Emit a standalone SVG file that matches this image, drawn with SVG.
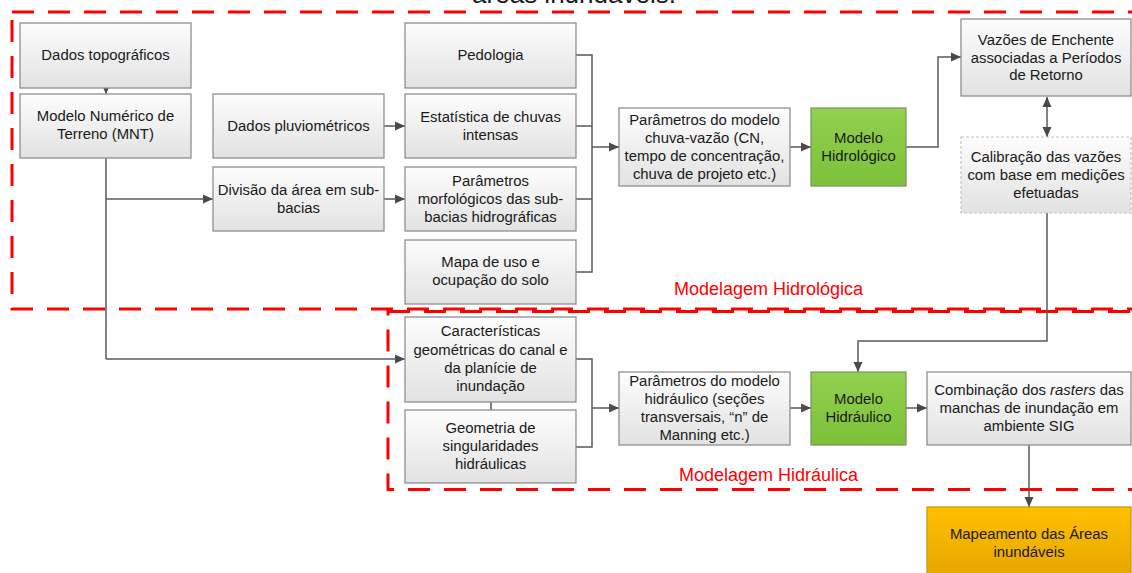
<svg xmlns="http://www.w3.org/2000/svg" width="1132" height="573" viewBox="0 0 1132 573">
<defs>
<linearGradient id="gGray" x1="0" y1="0" x2="0" y2="1"><stop offset="0" stop-color="#fdfdfd"/><stop offset="1" stop-color="#e2e2e2"/></linearGradient>
<linearGradient id="gGreen" x1="0" y1="0" x2="0" y2="1"><stop offset="0" stop-color="#92d050"/><stop offset="1" stop-color="#7cc03a"/></linearGradient>
<linearGradient id="gOrange" x1="0" y1="0" x2="0" y2="1"><stop offset="0" stop-color="#ffc000"/><stop offset="1" stop-color="#e5a600"/></linearGradient>
<marker id="arr" markerUnits="userSpaceOnUse" markerWidth="10" markerHeight="10" refX="10" refY="5" orient="auto-start-reverse" viewBox="0 0 10 10"><path d="M0,0.5 L10,5 L0,9.5 z" fill="#4a4a4a"/></marker>
</defs>
<style>
.box{fill:url(#gGray);stroke:#8f8f8f;stroke-width:1.3}
.dbox{fill:url(#gGray);stroke:#c4c4c4;stroke-width:1.2;stroke-dasharray:3 2}
.grn{fill:url(#gGreen);stroke:#7f9a62;stroke-width:1.3}
.org{fill:url(#gOrange);stroke:#c99a10;stroke-width:1.3}
text{font-family:"Liberation Sans",Arial,sans-serif;font-size:14.9px;fill:#1a1a1a;text-anchor:middle}
.lbl{font-size:18px;fill:#ff0000;text-anchor:start}
.ttl{font-size:26px}
.c{fill:none;stroke:#5a5a5a;stroke-width:1.5}
.ca{fill:none;stroke:#5a5a5a;stroke-width:1.5;marker-end:url(#arr)}
.zone{fill:none;stroke:#ff0000;stroke-width:3;stroke-dasharray:22 14}
</style>
<text class="ttl" x="574" y="3">áreas inundáveis.</text>
<g id="zones">
<rect class="zone" x="12" y="12" width="1140" height="297"/>
<rect class="zone" x="388" y="311.5" width="760" height="178"/>
<text class="lbl" x="674" y="295">Modelagem Hidrológica</text>
<text class="lbl" x="679" y="481">Modelagem Hidráulica</text>
</g>
<g id="connectors">
<path class="ca" d="M106,88 L106,94"/>
<path class="c" d="M106,158 L106,359"/>
<path class="ca" d="M106,199 L213,199"/>
<path class="ca" d="M106,359 L405,359"/>
<path class="ca" d="M384,126 L405,126"/>
<path class="ca" d="M384,199 L405,199"/>
<path class="c" d="M576,55 L592,55 L592,272 L576,272 M576,126 L592,126 M576,199 L592,199"/>
<path class="ca" d="M592,147 L619,147"/>
<path class="ca" d="M790,147 L811,147"/>
<path class="ca" d="M906,147 L938,147 L938,57 L961,57"/>
<path class="ca" d="M1047,97 L1047,137" marker-start="url(#arr)"/>
<path class="ca" d="M1047,213 L1047,341 L858,341 L858,372"/>
<path class="c" d="M491,402 L491,410"/>
<path class="c" d="M576,359 L592,359 L592,447 L576,447"/>
<path class="ca" d="M592,408 L619,408"/>
<path class="ca" d="M790,408 L811,408"/>
<path class="ca" d="M906,408 L927,408"/>
<path class="ca" d="M1029,445 L1029,507"/>
</g>
<g id="n-topo"><rect class="box" x="20" y="23" width="171" height="65"/><text x="105.5" y="60">Dados topográficos</text></g>
<g id="n-mnt"><rect class="box" x="20" y="94" width="171" height="64"/><text x="105.5" y="121">Modelo Numérico de</text><text x="105.5" y="139">Terreno (MNT)</text></g>
<g id="n-pluv"><rect class="box" x="213" y="94" width="171" height="64"/><text x="298.5" y="130.5">Dados pluviométricos</text></g>
<g id="n-div"><rect class="box" x="213" y="167" width="171" height="64"/><text x="298.5" y="194.5">Divisão da área em sub-</text><text x="298.5" y="212.5">bacias</text></g>
<g id="n-pedo"><rect class="box" x="405" y="23" width="171" height="65"/><text x="490.5" y="60">Pedologia</text></g>
<g id="n-est"><rect class="box" x="405" y="94" width="171" height="64"/><text x="490.5" y="121.5">Estatística de chuvas</text><text x="490.5" y="139.5">intensas</text></g>
<g id="n-morf"><rect class="box" x="405" y="167" width="171" height="64"/><text x="490.5" y="185.5">Parâmetros</text><text x="490.5" y="203.5">morfológicos das sub-</text><text x="490.5" y="221.5">bacias hidrográficas</text></g>
<g id="n-mapa"><rect class="box" x="405" y="240" width="171" height="64"/><text x="490.5" y="267">Mapa de uso e</text><text x="490.5" y="285">ocupação do solo</text></g>
<g id="n-pcv"><rect class="box" x="619" y="108" width="171" height="78"/><text x="704.5" y="124.5">Parâmetros do modelo</text><text x="704.5" y="142.5">chuva-vazão (CN,</text><text x="704.5" y="160.5">tempo de concentração,</text><text x="704.5" y="178.5">chuva de projeto etc.)</text></g>
<g id="n-mhidrol"><rect class="grn" x="811" y="108" width="95" height="78"/><text x="858.5" y="143">Modelo</text><text x="858.5" y="161">Hidrológico</text></g>
<g id="n-vaz"><rect class="box" x="961" y="19" width="170" height="77"/><text x="1046" y="44.5">Vazões de Enchente</text><text x="1046" y="62.5">associadas a Períodos</text><text x="1046" y="80">de Retorno</text></g>
<g id="n-cal"><rect class="dbox" x="961" y="137" width="170" height="76"/><text x="1046" y="161.5">Calibração das vazões</text><text x="1046" y="179.5">com base em medições</text><text x="1046" y="197.5">efetuadas</text></g>
<g id="n-car"><rect class="box" x="405" y="317" width="171" height="85"/><text x="490.5" y="336">Características</text><text x="490.5" y="354.5">geométricas do canal e</text><text x="490.5" y="372.5">da planície de</text><text x="490.5" y="390.5">inundação</text></g>
<g id="n-geo"><rect class="box" x="405" y="410" width="171" height="73"/><text x="490.5" y="432.5">Geometria de</text><text x="490.5" y="450.5">singularidades</text><text x="490.5" y="468.5">hidráulicas</text></g>
<g id="n-phid"><rect class="box" x="619" y="372" width="171" height="73"/><text x="704.5" y="385.5">Parâmetros do modelo</text><text x="704.5" y="403.5">hidráulico (seções</text><text x="704.5" y="421.5">transversais, “n” de</text><text x="704.5" y="439.5">Manning etc.)</text></g>
<g id="n-mhidra"><rect class="grn" x="811" y="372" width="95" height="73"/><text x="858.5" y="403.5">Modelo</text><text x="858.5" y="421.5">Hidráulico</text></g>
<g id="n-comb"><rect class="box" x="927" y="372" width="204" height="73"/><text x="1029" y="394.5">Combinação dos <tspan font-style="italic">rasters</tspan> das</text><text x="1029" y="412.5">manchas de inundação em</text><text x="1029" y="430.5">ambiente SIG</text></g>
<g id="n-mapeam"><rect class="org" x="927" y="507" width="204" height="72"/><text x="1029" y="538.5">Mapeamento das Áreas</text><text x="1029" y="556.5">inundáveis</text></g>
</svg>
